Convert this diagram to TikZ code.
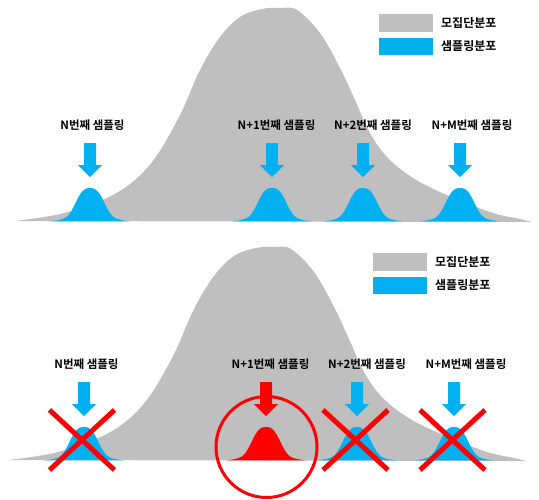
\documentclass[tikz,border=0pt]{standalone}
\usepackage{fontspec}
\newfontfamily\krfont{Noto Sans CJK KR Bold}
\definecolor{popgray}{RGB}{191,191,191}
\definecolor{sampblue}{RGB}{0,176,240}
\definecolor{pickred}{RGB}{255,0,0}

\tikzset{
  lbl/.style={font=\krfont\fontsize{11.5}{12}\selectfont, anchor=base, inner sep=0pt},
  legtext/.style={font=\krfont\fontsize{12}{13}\selectfont, anchor=base west, inner sep=0pt},
  cross/.style={pickred, line width=5pt},
}

% small bell: colour, centre x
\newcommand{\bell}[2]{%
  \fill[#1] plot[domain=-40:40, samples=81, smooth]
    ({#2+\x}, {222-25*exp(-(abs(\x)/16.5)^3)-7*exp(-(\x/25)^2)-2*(1-abs(\x)/40)}) -- cycle;}
% block arrow: colour, centre x
\newcommand{\sarrow}[2]{%
  \fill[#1] (#2-6,143) -- (#2+6,143) -- (#2+6,165) -- (#2+12,165)
    -- (#2,177) -- (#2-12,165) -- (#2-6,165) -- cycle;}

\begin{document}
\begin{tikzpicture}[x=1pt, y=-1pt]
  %tikz  population vs sampling distributions
    \useasboundingbox (0,0) rectangle (539,499);

    \foreach \p/\dx/\dy/\mid in {t/0/0/sampblue, b/-6/239/pickred} {
    \begin{scope}[shift={(\dx,\dy)}]
      \fill[popgray] plot[smooth, tension=0.6] coordinates {
        (15,221) (60,214) (100,201) (130,184) (155,158) (180,115)
        (200,70) (220,37) (240,17) (262,9) (280,8) (297,10) (320,33)
        (340,68) (355,100) (370,133) (387,157) (410,176) (440,192)
        (490,212) (520,219) (532,222)} -- cycle;

      \fill[popgray] (379,14) rectangle (433,32);
      \fill[sampblue] (379,38) rectangle (433,55);
      \node[legtext] (pop\p) at (441,27) {모집단분포};
      \node[legtext] (samp\p) at (441,50.5) {샘플링분포};

      \node[lbl] (first\p) at (92.5,129.5) {N번째 샘플링};
      \node[lbl] (next\p) at (276.5,129.5) {N+1번째 샘플링};
      \node[lbl] (second\p) at (373,129.5) {N+2번째 샘플링};
      \node[lbl] (last\p) at (472,129.5) {N+M번째 샘플링};

      \foreach \c in {90,363,460} {
        \sarrow{sampblue}{\c}
        \bell{sampblue}{\c}
      }
      \sarrow{\mid}{272}
      \bell{\mid}{272}
    \end{scope}
    }

    \begin{scope}[shift={(-6,239)}]
      \foreach \c in {88,361.5,458.5} {
        \draw[cross] (\c-32.5,171) -- (\c+32.5,231);
        \draw[cross] (\c-32.5,231) -- (\c+32.5,171);
      }
      \draw[pickred, line width=3pt] (272.5,208) circle (50.5pt);
    \end{scope}
\end{tikzpicture}
\end{document}
